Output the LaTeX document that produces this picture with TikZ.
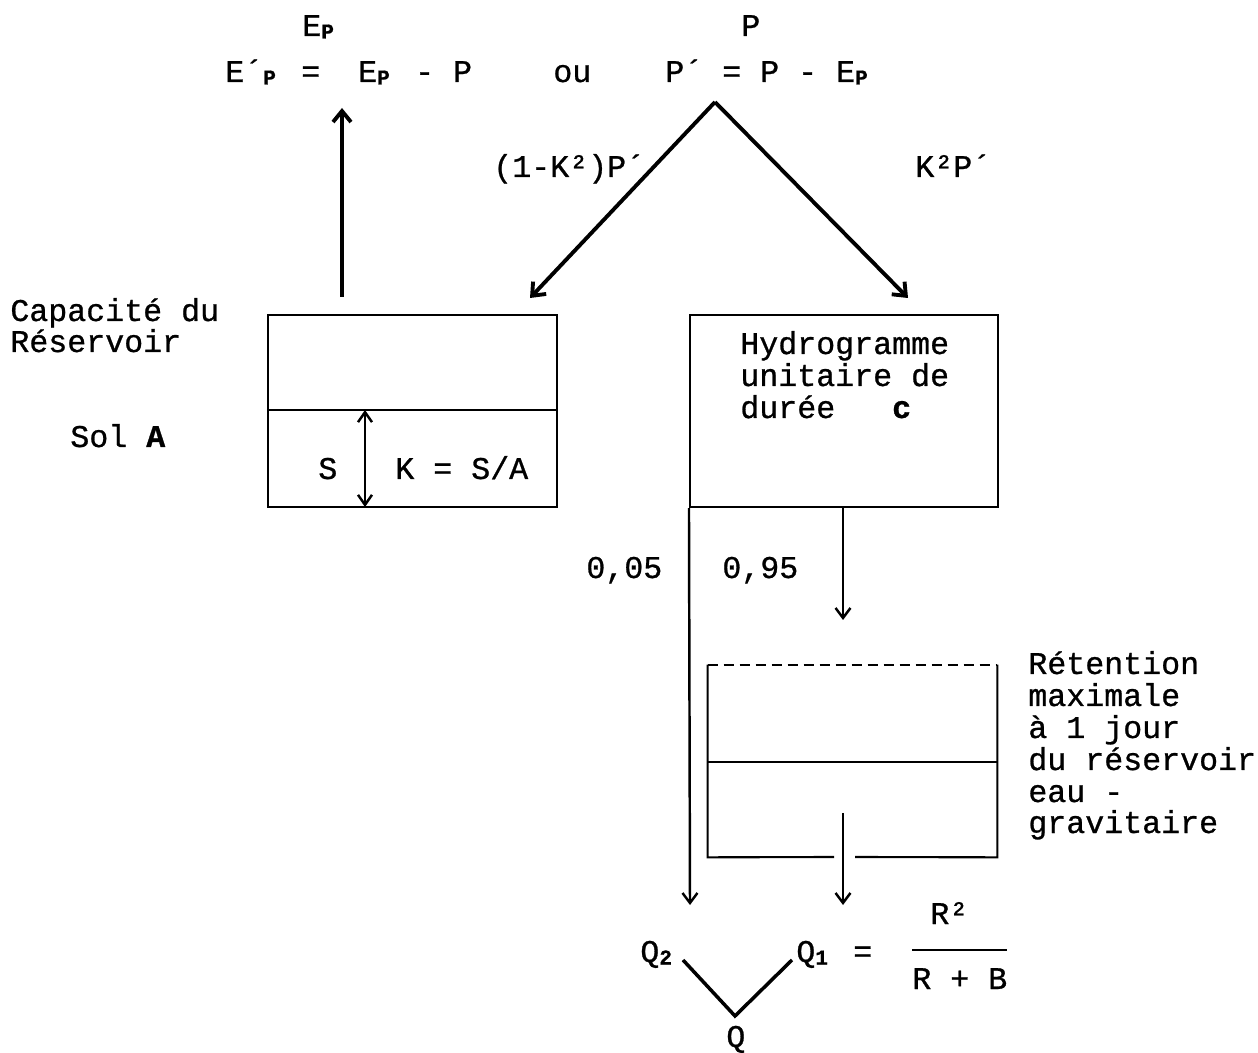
\documentclass[tikz,border=0pt]{standalone}
\usepackage{fontspec}
\setmonofont{Liberation Mono}[FakeBold=0.8]
\usetikzlibrary{arrows.meta}
\newcommand{\sbp}[1]{\makebox[0.6em][l]{\raisebox{-0.15ex}{\fontsize{12pt}{12pt}\selectfont\bfseries #1}}}
\begin{document}
\begin{tikzpicture}[x=0.02cm,y=-0.02cm,
  every node/.style={font=\ttfamily\fontsize{18pt}{18pt}\selectfont, inner sep=0pt},
  lbl/.style={anchor=base west},
  boxline/.style={line width=1.2pt},
  arr/.style={line width=1.4pt,-{Straight Barb[length=2mm,width=3mm]}},
  bigarr/.style={line width=2.2pt,-{Straight Barb[length=2.2mm,width=3.6mm]}},
  dblarr/.style={line width=1.4pt,{Straight Barb[length=2mm,width=2.8mm]}-{Straight Barb[length=2mm,width=2.8mm]}},
  vline/.style={line width=2pt}]
\useasboundingbox (0,0) rectangle (1258,1053);
\fill[white] (0,0) rectangle (1258,1053);

% top formulas
\node[lbl] (ep) at (302,36) {E\sbp{P}};
\node[lbl] (p) at (741,36) {P};
\node[lbl] (epf) at (225,82) {E´\sbp{P} = \ E\sbp{P} - P};
\node[lbl] (ou) at (553,82) {ou};
\node[lbl] (ppf) at (665,82) {P´ = P - E\sbp{P}};

% split of P'
\coordinate (apex) at (715,102);
\coordinate (lt) at (530,298);
\coordinate (rt) at (908,298);
\draw[bigarr] (apex) -- (lt);
\draw[bigarr] (apex) -- (rt);
\node[lbl] (kl) at (493,177) {(1-K²)P´};
\node[lbl] (kr) at (915,177) {K²P´};

% evaporation arrow
\coordinate (upstart) at (342,297);
\coordinate (upend) at (342,108);
\draw[bigarr] (upstart) -- (upend);

% soil reservoir
\node[lbl] (cap1) at (10,321) {Capacité du};
\node[lbl] (cap2) at (10,352) {Réservoir};
\node[lbl] (sol) at (70,447) {Sol \textbf{A}};
\node[draw,boxline,minimum width=5.78cm,minimum height=3.84cm] (lbox) at (412.5,411) {};
\draw[boxline] (lbox.west |- 0,410) -- (lbox.east |- 0,410);
\coordinate (d1) at (365,410);
\coordinate (d2) at (365,507);
\draw[dblarr] (d1) -- (d2);
\node[lbl] (s) at (318,479) {S};
\node[lbl] (k) at (395,479) {K = S/A};

% unit hydrograph
\node[draw,boxline,minimum width=6.16cm,minimum height=3.84cm] (rbox) at (844,411) {};
\node[lbl] (h1) at (740,354) {Hydrogramme};
\node[lbl] (h2) at (740,386) {unitaire de};
\node[lbl] (h3) at (740,418) {durée\ \ \ \textbf{c}};

% split 0,05 / 0,95
\coordinate (a95) at (843,620);
\draw[arr] (rbox.south -| a95) -- (a95);
\coordinate (q2in) at (690,905);
\draw[arr] (rbox.south west) -- (q2in);
\node[lbl] (n05) at (586,578) {0,05};
\node[lbl] (n95) at (722,578) {0,95};

% gravitational reservoir
\node[minimum width=5.78cm,minimum height=3.84cm] (gbox) at (852.5,761) {};
\draw[boxline,dash pattern=on 0.2cm off 0.12cm] (gbox.north west) -- (gbox.north east);
\draw[boxline] (gbox.north west) -- (gbox.south west) -- (834,857);
\draw[boxline] (855,857) -- (gbox.south east) -- (gbox.north east);
\draw[boxline] (gbox.west |- 0,762) -- (gbox.east |- 0,762);
\coordinate (g1) at (843,813);
\coordinate (q1in) at (843,905);
\draw[arr] (g1) -- (q1in);
\node[lbl] (ret1) at (1028,674) {Rétention};
\node[lbl] (ret2) at (1028,706) {maximale};
\node[lbl] (ret3) at (1028,738) {à 1 jour};
\node[lbl] (ret4) at (1028,770) {du réservoir};
\node[lbl] (ret5) at (1028,802) {eau -};
\node[lbl] (ret6) at (1028,833) {gravitaire};

% outflow
\node[lbl] (q2) at (640,962) {Q\sbp{2}};
\node[lbl] (q1) at (796,962) {Q\sbp{1} =};
\node[lbl] (r2) at (930,924) {R²};
\coordinate (fb1) at (912,950);
\coordinate (fb2) at (1007,950);
\draw[line width=1.2pt] (fb1) -- (fb2);
\node[lbl] (rb) at (912,989) {R + B};
\coordinate (v1) at (683,960);
\coordinate (vap) at (735,1016);
\coordinate (v2) at (792,960);
\draw[vline] (v1) -- (vap) -- (v2);
\node[lbl] (q) at (726,1047) {Q};
\end{tikzpicture}
\end{document}
